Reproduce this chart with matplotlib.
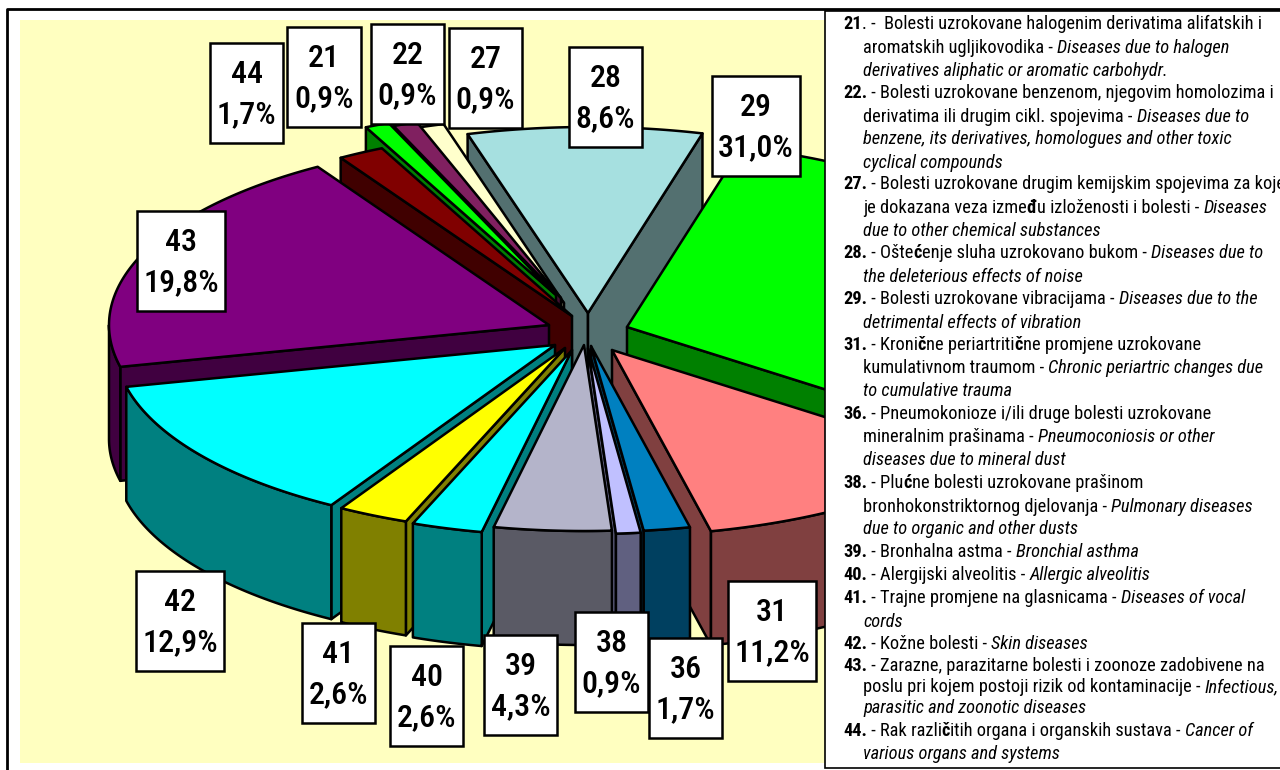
"""Exploded 3D pie of occupational disease shares with a bilingual key on the right."""

import re

import matplotlib

matplotlib.use("Agg")
import matplotlib.pyplot as plt
import numpy as np
from matplotlib.patches import Polygon, Rectangle

# data
codes = ["21", "22", "27", "28", "29", "31", "36", "38", "39", "40", "41", "42", "43", "44"]
shares = [0.9, 0.9, 0.9, 8.6, 31.0, 11.2, 1.7, 0.9, 4.3, 2.6, 2.6, 12.9, 19.8, 1.7]

key_lines = [
    "**21**. -  Bolesti uzrokovane halogenim derivatima alifatskih i",
    "aromatskih ugljikovodika - _Diseases due to halogen_",
    "_derivatives aliphatic or aromatic carbohydr._",
    "**22.** - Bolesti uzrokovane benzenom, njegovim homolozima i",
    "derivatima ili drugim cikl. spojevima - _Diseases due to_",
    "_benzene, its derivatives, homologues and other toxic_",
    "_cyclical compounds_",
    "**27.** - Bolesti uzrokovane drugim kemijskim spojevima za koje",
    "je dokazana veza izme**đ**u izloženosti i bolesti - _Diseases_",
    "_due to other chemical substances_",
    "**28.** - Ošte**ć**enje sluha uzrokovano bukom - _Diseases due to_",
    "_the deleterious effects of noise_",
    "**29.** - Bolesti uzrokovane vibracijama - _Diseases due to the_",
    "_detrimental effects of vibration_",
    "**31.** - Kroni**č**ne periartriti**č**ne promjene uzrokovane",
    "kumulativnom traumom - _Chronic periartric changes due_",
    "_to cumulative trauma_",
    "**36.** - Pneumokonioze i/ili druge bolesti uzrokovane",
    "mineralnim prašinama - _Pneumoconiosis or other_",
    "_diseases due to mineral dust_",
    "**38.** - Plu**ć**ne bolesti uzrokovane prašinom",
    "bronhokonstriktornog djelovanja - _Pulmonary diseases_",
    "_due to organic and other dusts_",
    "**39.** - Bronhalna astma - _Bronchial asthma_",
    "**40.** - Alergijski alveolitis - _Allergic alveolitis_",
    "**41.** - Trajne promjene na glasnicama - _Diseases of vocal_",
    "_cords_",
    "**42.** - Kožne bolesti - _Skin diseases_",
    "**43.** - Zarazne, parazitarne bolesti i zoonoze zadobivene na",
    "poslu pri kojem postoji rizik od kontaminacije - _Infectious,_",
    "_parasitic and zoonotic diseases_",
    "**44.** - Rak razli**č**itih organa i organskih sustava - _Cancer of_",
    "_various organs and systems_",
]

# layout, in picture pixels
key_y = [24, 48, 71, 93, 117, 139, 163, 184, 208, 231, 253, 277, 299, 323, 345, 368,
         391, 414, 437, 460, 483, 507, 529, 552, 575, 598, 622, 644, 666, 687, 708, 731, 754]
tips = {
    "21": (556, 295), "22": (561, 298), "27": (564, 303), "28": (588, 313),
    "29": (627, 327), "31": (612, 350), "36": (591, 346), "38": (588, 348),
    "39": (584, 345), "40": (572, 350), "41": (565, 348), "42": (555, 345),
    "43": (549, 325), "44": (572, 316),
}
boxes = {
    "21": (287, 27, 74), "22": (371, 24, 73), "27": (449, 28, 73), "28": (569, 47, 73),
    "29": (712, 76, 88), "31": (728, 581, 88), "36": (649, 638, 73), "38": (575, 612, 73),
    "39": (484, 635, 73), "40": (390, 646, 73), "41": (302, 623, 73), "42": (136, 571, 88),
    "43": (137, 211, 88), "44": (210, 43, 73),
}
top_colors = {
    "21": "#00FF00", "22": "#802060", "27": "#FFFFCC", "28": "#A6E0E0", "29": "#00FF00",
    "31": "#FF8080", "36": "#0080C0", "38": "#C0C0FF", "39": "#B4B4CA", "40": "#00FFFF",
    "41": "#FFFF00", "42": "#00FFFF", "43": "#800080", "44": "#800000",
}
side_colors = {
    "21": "#008000", "22": "#401030", "27": "#808066", "28": "#537070", "29": "#008000",
    "31": "#804040", "36": "#004060", "38": "#606080", "39": "#5A5A65", "40": "#008080",
    "41": "#808000", "42": "#008080", "43": "#400040", "44": "#400000",
}
draw_order = ["28", "27", "22", "21", "44", "43", "29", "31", "36", "38", "42", "41", "40", "39"]

RX, RY, DEPTH = 440, 186, 114
START_ANGLE = -25.6
CONDENSED = ["Roboto Condensed", "Lato"]


def ellipse_xy(cx, cy, angles):
    t = np.radians(angles)
    return cx + RX * np.sin(t), cy - RY * np.cos(t)


def draw_slice(ax, code, a0, a1):
    cx, cy = tips[code]
    style = dict(edgecolor="black", linewidth=1.8, joinstyle="round")
    side = side_colors[code]
    # only the cut faces turned towards the viewer
    for angle, visible in ((a0, np.sin(np.radians(a0)) < 0), (a1, np.sin(np.radians(a1)) > 0)):
        if visible:
            x, y = ellipse_xy(cx, cy, angle)
            ax.add_patch(Polygon([(x, y), (cx, cy), (cx, cy + DEPTH), (x, y + DEPTH)], facecolor=side, **style))
    lo, hi = max(a0, 90), min(a1, 270)
    if hi > lo:
        xs, ys = ellipse_xy(cx, cy, np.linspace(lo, hi, 80))
        ax.add_patch(Polygon(np.r_[np.c_[xs, ys], np.c_[xs, ys + DEPTH][::-1]], facecolor=side, **style))
    xs, ys = ellipse_xy(cx, cy, np.linspace(a0, a1, 80))
    ax.add_patch(Polygon(np.r_[[(cx, cy)], np.c_[xs, ys]], facecolor=top_colors[code], **style))


def run_width(ax, renderer, run, **font):
    # a closing dot keeps trailing spaces in the measure
    a = ax.text(0, 0, run + ".", **font)
    b = ax.text(0, 0, ".", **font)
    w = a.get_window_extent(renderer).width - b.get_window_extent(renderer).width
    a.remove()
    b.remove()
    return w


def draw_key_line(ax, renderer, x, y, line):
    for run in re.split(r"(\*\*.+?\*\*|_.+?_)", line):
        if not run:
            continue
        font = dict(family=CONDENSED, fontsize=13.25, color="black", zorder=8)
        if run.startswith("**"):
            run = run[2:-2]
            font["fontweight"] = "bold"
        elif run.startswith("_"):
            run = run[1:-1]
            font["fontstyle"] = "italic"
        ax.text(x, y, run, va="baseline", ha="left", **font)
        x += run_width(ax, renderer, run, **font)


fig = plt.figure(figsize=(12.8, 7.7), dpi=100)
ax = fig.add_axes([0, 0, 1, 1])
ax.set_xlim(0, 1280)
ax.set_ylim(770, 0)
ax.axis("off")

ax.add_patch(Rectangle((20, 20), 810, 743, facecolor="#FFFFC0", edgecolor="none", zorder=0))
ax.plot([7, 7, 1280], [770, 9, 9], color="black", lw=2, zorder=9)

angles = START_ANGLE + np.r_[0, np.cumsum(shares)] / sum(shares) * 360
spans = {c: (angles[i], angles[i + 1]) for i, c in enumerate(codes)}
for code in draw_order:
    draw_slice(ax, code, *spans[code])

for code, share in zip(codes, shares):
    x, y, w = boxes[code]
    ax.add_patch(Rectangle((x, y), w, 100, facecolor="white", edgecolor="black", linewidth=1.8, zorder=5))
    ax.text(x + w / 2, y + 40, code, family=CONDENSED, fontsize=23, fontweight="medium",
            ha="center", va="baseline", zorder=6)
    ax.text(x + w / 2, y + 80, f"{share:.1f}%".replace(".", ","), family=CONDENSED, fontsize=23,
            fontweight="medium", ha="center", va="baseline", zorder=6)

ax.add_patch(Rectangle((825, 11), 470, 757, facecolor="white", edgecolor="black", linewidth=1.2, zorder=7))
renderer = fig.canvas.get_renderer()
for y, line in zip(key_y, key_lines):
    draw_key_line(ax, renderer, 843 if line.startswith("**") else 863, y + 5, line)

fig.savefig("out.png", dpi=100)
plt.close(fig)
